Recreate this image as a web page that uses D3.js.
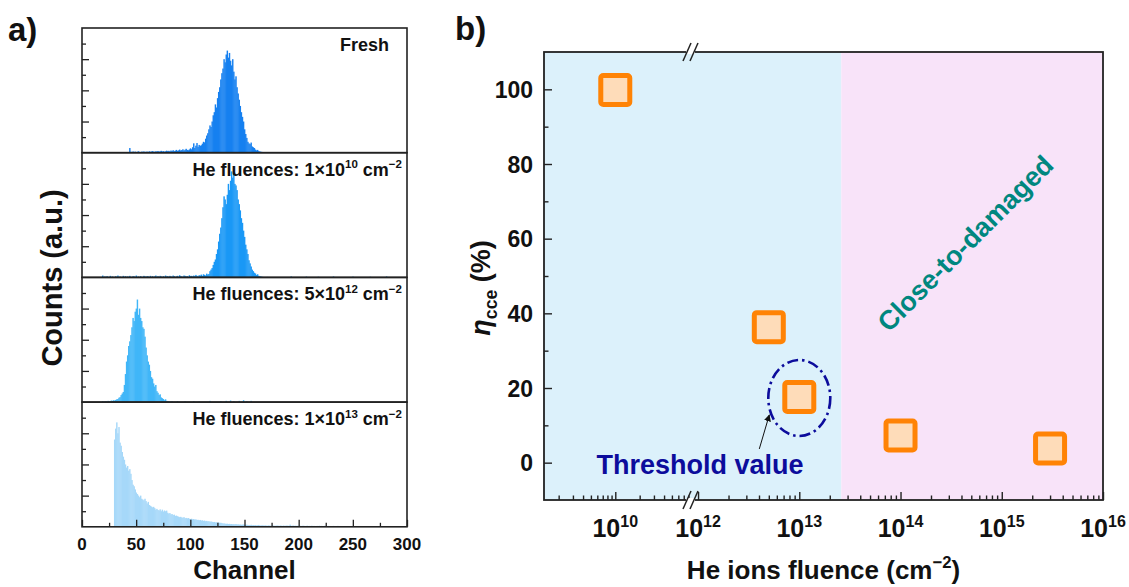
<!DOCTYPE html>
<html><head><meta charset="utf-8">
<script src="https://cdn.jsdelivr.net/npm/d3@7"></script>
<style>
body{margin:0;background:#fff}
svg{display:block}
text{font-family:"Liberation Sans",Arial,sans-serif;font-weight:bold;fill:#111}
</style>
</head><body>
<svg id="c" width="1129" height="587"></svg>
<script>
// ---------------- Panel a data (counts per channel) ----------------
const channelTicks = [0, 50, 100, 150, 200, 250, 300];
const channelMinorTicks = [25, 75, 125, 175, 225, 275];
const countMajorTicks = [200, 400, 600];
const countMinorTicks = [100, 300, 500, 700];

const freshStart = 44;
const freshCounts = [30,
 6,4,8,5,7,3,6,9,5,4,7,6,8,5,6,
 7,5,9,6,8,10,7,6,9,8,11,7,9,12,8,10,7,9,13,10,
 12,9,14,11,16,10,13,18,12,15,20,14,17,22,15,19,25,18,16,21,
 28,22,35,60,30,45,62,38,50,44,
 48,58,70,66,90,110,125,150,175,165,
 200,240,260,310,290,350,390,420,470,510,
 540,600,580,630,655,610,640,590,560,600,
 520,470,490,420,380,340,300,260,230,200,
 150,120,95,70,60,55,65,40,35,30,
 20,15,18,10,8,6,5,4,3,3,
 2,3,2,1,2,1];
const freshSpikes = [];

const f1e10Start = 19;
const f1e10Counts = [
 12,0,6,0,8,0,0,10,0,6,0,0,8,0,12,0,6,0,0,10,
 0,8,0,6,0,10,0,0,8,6,0,12,0,6,0,8,0,0,10,6,
 0,8,6,0,10,0,8,0,6,12,0,8,0,10,6,0,8,0,12,6,
 8,0,10,6,0,12,8,0,6,10,0,14,8,6,0,12,10,6,8,0,
 14,8,10,6,12,8,16,10,6,14,12,18,10,20,16,12,24,18,22,
 40,50,60,80,100,115,150,180,230,280,
 320,380,450,520,500,470,530,600,560,620,
 680,640,670,600,590,560,500,470,430,380,
 350,300,260,210,180,150,110,90,70,50,
 40,30,25,15,20,10,8,6,4,3,
 2,2,0,3,0,0,2,0,0,1];
const f1e10Spikes = [[193,6],[207,5],[218,4],[232,6],[250,5],[266,4],[281,6]];

const f5e12Start = 19;
const f5e12Counts = [
 6,0,4,6,0,8,5,6,10,8,12,10,14,18,20,28,
 32,45,55,65,110,180,260,300,360,390,
 430,480,540,520,580,600,658,560,600,540,
 520,480,470,420,350,300,260,240,200,160,
 150,120,100,110,70,60,45,50,30,25,
 20,12,18,8,6,4,0,3,5,0];
const f5e12Spikes = [[88,6],[95,5],[103,6],[108,4],[118,8],[128,6],[133,8],[137,10],[140,6],[145,8],[149,12],[152,6],[156,8]];

const f1e13Start = 30;
const f1e13Counts = [
 560,630,670,600,640,540,520,480,450,430,
 400,380,390,360,370,340,300,270,260,240,
 220,210,200,190,200,180,175,170,180,165,
 150,160,140,135,130,125,128,120,110,115,
 108,105,112,100,110,98,105,100,104,90,
 85,88,80,82,75,78,70,72,68,65,
 62,64,60,58,62,55,57,54,56,52,
 50,52,48,50,46,48,44,45,42,44,
 40,42,38,40,36,38,35,36,33,34,
 32,30,31,28,29,27,28,25,26,24,
 21,22,20,19,20,18,19,17,18,16,
 17,16,18,15,16,14,15,13,14,15,
 13,12,14,11,12,11,13,10,11,10,
 11,9,10,12,9,8,10,9,8,9,
 8,7,9,8,7,6,8,7,6,7,
 8,7,6,8,7,6,8,6,7,8,
 7,6,14,6,7,8,6,7,6,7,
 6,7,5,6,7,6,5,6,7,5,
 6,5,7,5,6,5,4,6,5,7,
 5,6,4,5,7,5,4,6,5,4,
 5,4,6,5,4,5,6,4,5,4,
 5,4,4,5,4,5,4,4,5,4,
 4,5,4,4,5,4,4,5,4,4,
 4,4,5,4,4,4,5,4,4,4,
 4,3,4,4,3,4,4,3,4,3,
 3,4,3,4,3,3,4,3];
const f1e13Spikes = [];

const panelNames = ["Fresh", "He fluences: 1×10", "He fluences: 5×10", "He fluences: 1×10"];
const panelExps = [null, "10", "12", "13"];
const histColors = ["#1680F0", "#1A98F6", "#40B6F8", "#A6D8F9"];

// ---------------- Panel b data ----------------
const fluence = [1e10, 5e12, 1e13, 1e14, 3e15];
const etaCCE = [99.8, 36.3, 17.6, 7.3, 3.8];
const etaMajorTicks = [0, 20, 40, 60, 80, 100];
const etaMinorTicks = [10, 30, 50, 70, 90];
const seg1Major = [1e10];
const seg2Major = [1e12, 1e13, 1e14, 1e15, 1e16];
const fluenceLabelExps = ["10", "12", "13", "14", "15", "16"];
const regionBoundary = 2.6e13;
const thresholdPoint = 2; // index of the circled point

// ---------------- drawing ----------------
const svg = d3.select("#c");

function richText(sel, parts, base) {
  let shift = 0;
  parts.forEach(([t, kind, extra]) => {
    const ts = sel.append("tspan").text(t);
    let target = 0, fs = base;
    if (kind === "sup") { target = -base * 0.42; fs = base * 0.64; }
    if (kind === "sub") { target = base * 0.25; fs = base * 0.65; }
    ts.attr("dy", target - shift).attr("font-size", fs);
    if (extra) ts.attr("font-style", extra);
    shift = target;
  });
}

// ===== Panel a =====
const xa = d3.scaleLinear().domain([0, 300]).range([82, 407]);
const aTop = 28, aH = 124.7;
const histSeries = [
  {start: freshStart, counts: freshCounts, spikes: freshSpikes},
  {start: f1e10Start, counts: f1e10Counts, spikes: f1e10Spikes},
  {start: f5e12Start, counts: f5e12Counts, spikes: f5e12Spikes},
  {start: f1e13Start, counts: f1e13Counts, spikes: f1e13Spikes}
];
const bw = xa(1) - xa(0);
const lineStyle = a => { a.select(".domain").remove(); a.selectAll("line").attr("stroke", "#222").attr("stroke-width", 1.3); };

histSeries.forEach((s, i) => {
  const y0 = aTop + i * aH;
  const ya = d3.scaleLinear().domain([0, 800]).range([y0 + aH, y0]);
  const g = svg.append("g");
  const bins = s.counts.map((c, j) => ({ch: s.start + j, c}))
    .concat(s.spikes.map(([ch, c]) => ({ch, c}))).filter(d => d.c > 0);
  g.selectAll("rect.bar").data(bins).join("rect").attr("class", "bar")
    .attr("x", d => xa(d.ch - 0.5)).attr("width", bw + 0.35)
    .attr("y", d => ya(d.c)).attr("height", d => ya(0) - ya(d.c))
    .attr("fill", histColors[i]);

  g.append("g").attr("transform", `translate(${xa(0)},0)`)
    .call(d3.axisLeft(ya).tickValues(countMajorTicks).tickSize(-7).tickFormat("")).call(lineStyle);
  g.append("g").attr("transform", `translate(${xa(0)},0)`)
    .call(d3.axisLeft(ya).tickValues(countMinorTicks).tickSize(-4).tickFormat("")).call(lineStyle);

  if (i === histSeries.length - 1) {
    const yb = y0 + aH;
    g.append("g").attr("transform", `translate(0,${yb})`)
      .call(d3.axisBottom(xa).tickValues(channelTicks).tickSize(-7).tickFormat("")).call(lineStyle);
    g.append("g").attr("transform", `translate(0,${yb})`)
      .call(d3.axisBottom(xa).tickValues(channelMinorTicks).tickSize(-4).tickFormat("")).call(lineStyle);
    svg.append("g").selectAll("text").data(channelTicks).join("text")
      .attr("x", d => xa(d)).attr("y", yb + 23).attr("text-anchor", "middle")
      .attr("font-size", 17).text(d => d);
  }

  svg.append("rect").attr("x", xa(0)).attr("y", y0).attr("width", xa(300) - xa(0)).attr("height", aH)
    .attr("fill", "none").attr("stroke", "#222").attr("stroke-width", 1.6);

  const t = svg.append("text").attr("text-anchor", "end").attr("font-size", 18)
    .attr("x", i === 0 ? 389 : 402).attr("y", y0 + 23);
  if (panelExps[i] === null) t.text(panelNames[i]);
  else richText(t, [[panelNames[i], "n"], [panelExps[i], "sup"], [" cm", "n"], ["−2", "sup"]], 18);
});

svg.append("text").attr("x", 8).attr("y", 41).attr("font-size", 33).text("a)");
svg.append("text").attr("transform", "translate(62,278) rotate(-90)").attr("text-anchor", "middle")
  .attr("font-size", 29).text("Counts (a.u.)");
svg.append("text").attr("x", (xa(0) + xa(300)) / 2).attr("y", 579).attr("text-anchor", "middle")
  .attr("font-size", 26).text("Channel");

// ===== Panel b =====
const bL = 544, bR = 1103, bT = 52, bB = 500, brk = 691;
const x1 = d3.scaleLog().domain([Math.pow(10, 9.12), Math.pow(10, 10.91)]).range([bL, 689]);
const x2 = d3.scaleLog().domain([Math.pow(10, 11.96), 1e16]).range([694, bR]);
const xb = v => (v < 1e11 ? x1(v) : x2(v));
const yb = d3.scaleLinear().domain([-10, 110]).range([bB, bT]);

svg.append("rect").attr("x", bL).attr("y", bT).attr("width", x2(regionBoundary) - bL).attr("height", bB - bT).attr("fill", "#DCF1FB");
svg.append("rect").attr("x", x2(regionBoundary)).attr("y", bT).attr("width", bR - x2(regionBoundary)).attr("height", bB - bT).attr("fill", "#F8E3F9");

function minorFor(scale, decades) {
  const out = [];
  decades.forEach(d => { for (let k = 2; k <= 9; k++) out.push(k * d); });
  const [a, b] = scale.domain();
  return out.filter(v => v > a && v < b);
}
const tickStyle = a => { a.select(".domain").remove(); a.selectAll("line").attr("stroke", "#222").attr("stroke-width", 1.4); };
svg.append("g").attr("transform", `translate(0,${bB})`)
  .call(d3.axisBottom(x1).tickValues(seg1Major).tickSize(-8).tickFormat("")).call(tickStyle);
svg.append("g").attr("transform", `translate(0,${bB})`)
  .call(d3.axisBottom(x1).tickValues(minorFor(x1, [1e9, 1e10])).tickSize(-4.5).tickFormat("")).call(tickStyle);
svg.append("g").attr("transform", `translate(0,${bB})`)
  .call(d3.axisBottom(x2).tickValues(seg2Major).tickSize(-8).tickFormat("")).call(tickStyle);
svg.append("g").attr("transform", `translate(0,${bB})`)
  .call(d3.axisBottom(x2).tickValues(minorFor(x2, [1e11, 1e12, 1e13, 1e14, 1e15])).tickSize(-4.5).tickFormat("")).call(tickStyle);

svg.append("g").attr("transform", `translate(${bL},0)`)
  .call(d3.axisLeft(yb).tickValues(etaMajorTicks).tickSize(-8).tickFormat("")).call(tickStyle);
svg.append("g").attr("transform", `translate(${bL},0)`)
  .call(d3.axisLeft(yb).tickValues(etaMinorTicks).tickSize(-4.5).tickFormat("")).call(tickStyle);
svg.append("g").selectAll("text").data(etaMajorTicks).join("text")
  .attr("x", bL - 11).attr("y", d => yb(d) + 8.5).attr("text-anchor", "end").attr("font-size", 23).text(d => d);

const xLabelVals = seg1Major.concat(seg2Major);
xLabelVals.forEach((v, i) => {
  const t = svg.append("text").attr("x", xb(v)).attr("y", bB + 37).attr("text-anchor", "middle").attr("font-size", 25);
  richText(t, [["10", "n"], [fluenceLabelExps[i], "sup"]], 25);
});

svg.append("rect").attr("x", bL).attr("y", bT).attr("width", bR - bL).attr("height", bB - bT)
  .attr("fill", "none").attr("stroke", "#222").attr("stroke-width", 1.8);

[bT, bB].forEach(yy => {
  svg.append("rect").attr("x", brk - 5).attr("y", yy - 2).attr("width", 9).attr("height", 4).attr("fill", "#fff");
  [-4, 3].forEach(dx => {
    svg.append("line").attr("x1", brk + dx - 4).attr("y1", yy + 9).attr("x2", brk + dx + 4).attr("y2", yy - 9)
      .attr("stroke", "#222").attr("stroke-width", 1.5);
  });
});

svg.append("text").attr("transform", "translate(972,250) rotate(-45)").attr("text-anchor", "middle")
  .attr("font-size", 27).style("fill", "#00877F").text("Close-to-damaged");

const tx = xb(fluence[thresholdPoint]), ty = yb(etaCCE[thresholdPoint]);
svg.append("ellipse").attr("cx", tx).attr("cy", ty + 1).attr("rx", 31).attr("ry", 38)
  .attr("fill", "none").attr("stroke", "#0C0C9C").attr("stroke-width", 2.6).attr("stroke-dasharray", "11,4,2.5,4");
svg.append("defs").append("marker").attr("id", "ah").attr("viewBox", "0 0 10 10").attr("refX", 9).attr("refY", 5)
  .attr("markerWidth", 7).attr("markerHeight", 7).attr("orient", "auto")
  .append("path").attr("d", "M0,0 L10,5 L0,10 z").attr("fill", "#111");
svg.append("line").attr("x1", tx - 40).attr("y1", ty + 52).attr("x2", tx - 30).attr("y2", ty + 18)
  .attr("stroke", "#111").attr("stroke-width", 1).attr("marker-end", "url(#ah)");
svg.append("text").attr("x", 700).attr("y", 474).attr("text-anchor", "middle").attr("font-size", 27)
  .style("fill", "#0C0C9C").text("Threshold value");

svg.append("g").selectAll("rect").data(fluence.map((f, i) => [f, etaCCE[i]])).join("rect")
  .attr("x", d => xb(d[0]) - 14.5).attr("y", d => yb(d[1]) - 14.5).attr("width", 29).attr("height", 29)
  .attr("rx", 2.5).attr("fill", "#FEDCB9").attr("stroke", "#FF8305").attr("stroke-width", 5);

svg.append("text").attr("x", 455).attr("y", 40).attr("font-size", 33).text("b)");
const yl = svg.append("text").attr("transform", "translate(490,288) rotate(-90)").attr("text-anchor", "middle").attr("font-size", 27);
richText(yl, [["η", "n", "italic"], ["cce", "sub"], [" (%)", "n"]], 27);
const xl = svg.append("text").attr("x", (bL + bR) / 2).attr("y", 579).attr("text-anchor", "middle").attr("font-size", 26);
richText(xl, [["He ions fluence (cm", "n"], ["−2", "sup"], [")", "n"]], 26);
</script>
</body></html>
